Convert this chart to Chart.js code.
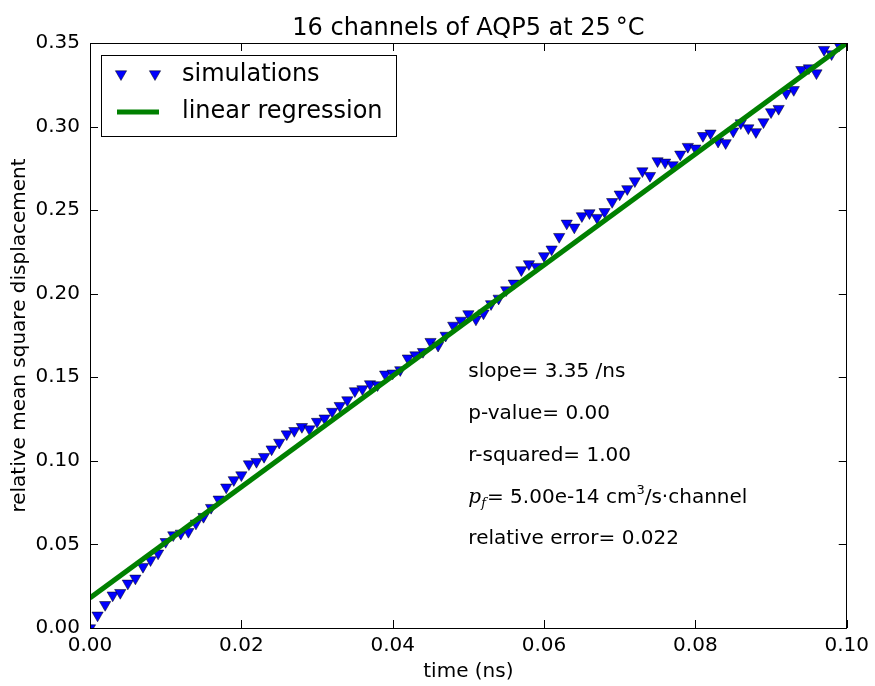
<!DOCTYPE html>
<html>
<head>
<meta charset="utf-8">
<script src="https://cdn.jsdelivr.net/npm/chart.js@4/dist/chart.umd.min.js"></script>
<style>
html,body{margin:0;padding:0;background:#fff;}
#wrap{width:875px;height:686px;position:relative;}
</style>
</head>
<body>
<div id="wrap"><canvas id="c" width="875" height="686"></canvas></div>
<script>
// ---- data ----
const times = [0.000,0.001,0.002,0.003,0.004,0.005,0.006,0.007,0.008,0.009,
  0.010,0.011,0.012,0.013,0.014,0.015,0.016,0.017,0.018,0.019,
  0.020,0.021,0.022,0.023,0.024,0.025,0.026,0.027,0.028,0.029,
  0.030,0.031,0.032,0.033,0.034,0.035,0.036,0.037,0.038,0.039,
  0.040,0.041,0.042,0.043,0.044,0.045,0.046,0.047,0.048,0.049,
  0.050,0.051,0.052,0.053,0.054,0.055,0.056,0.057,0.058,0.059,
  0.060,0.061,0.062,0.063,0.064,0.065,0.066,0.067,0.068,0.069,
  0.070,0.071,0.072,0.073,0.074,0.075,0.076,0.077,0.078,0.079,
  0.080,0.081,0.082,0.083,0.084,0.085,0.086,0.087,0.088,0.089,
  0.090,0.091,0.092,0.093,0.094,0.095,0.096,0.097,0.098,0.099];
const msd = [0.000,0.0076,0.0139,0.0196,0.0211,0.0267,0.0297,0.0367,0.0407,0.0447,
  0.0516,0.0556,0.0566,0.0576,0.0626,0.0666,0.0720,0.0770,0.0842,0.0886,
  0.0915,0.0981,0.0995,0.1025,0.1070,0.1110,0.1160,0.1180,0.1204,0.1190,
  0.1235,0.1255,0.1295,0.1330,0.1364,0.1418,0.1430,0.1460,0.1454,0.1518,
  0.1524,0.1544,0.1614,0.1633,0.1653,0.1713,0.1690,0.1750,0.1810,0.1840,
  0.1879,0.1847,0.1883,0.1939,0.1972,0.2022,0.2062,0.2142,0.2178,0.2162,
  0.2226,0.2266,0.2341,0.2421,0.2397,0.2465,0.2483,0.2455,0.2490,0.2550,
  0.2595,0.2627,0.2674,0.2734,0.2706,0.2794,0.2786,0.2770,0.2834,0.2880,
  0.2870,0.2945,0.2960,0.2911,0.2902,0.2972,0.3021,0.2991,0.2968,0.3027,
  0.3087,0.3107,0.3200,0.3220,0.3340,0.3350,0.3320,0.3460,0.3434,0.3487];
const fitX = [0.0, 0.1];
const fitY = [0.018, 0.350];
const xTicks = [0.00, 0.02, 0.04, 0.06, 0.08, 0.10];
const yTicks = [0.00, 0.05, 0.10, 0.15, 0.20, 0.25, 0.30, 0.35];
const seriesNames = ['simulations', 'linear regression'];
const titleText = '16 channels of AQP5 at 25\u2009\u00b0C';
const xLabel = 'time (ns)';
const yLabel = 'relative mean square displacement';
const statLabels = ['slope= 3.35 /ns', 'p-value= 0.00', 'r-squared= 1.00', 'PF', 'relative error= 0.022'];
const statY = [0.15, 0.125, 0.10, 0.075, 0.05];
const statX = 0.05;

const FONT = '"DejaVu Sans", sans-serif';

const decor = {
  id: 'decor',
  afterDatasetsDraw(chart) {
    const ctx = chart.ctx;
    const ca = chart.chartArea;
    const xs = chart.scales.x, ys = chart.scales.y;
    ctx.save();
    // frame
    ctx.strokeStyle = '#000';
    ctx.lineWidth = 1;
    ctx.strokeRect(Math.round(ca.left) + 0.5, Math.round(ca.top) + 0.5,
      Math.round(ca.right - ca.left) - 1, Math.round(ca.bottom - ca.top));
    // inward ticks
    ctx.beginPath();
    const tl = 8;
    xTicks.forEach(v => {
      const px = Math.round(xs.getPixelForValue(v)) + 0.5;
      ctx.moveTo(px, ca.bottom); ctx.lineTo(px, ca.bottom - tl);
      ctx.moveTo(px, ca.top); ctx.lineTo(px, ca.top + tl);
    });
    yTicks.forEach(v => {
      const py = Math.round(ys.getPixelForValue(v)) + 0.5;
      ctx.moveTo(ca.left, py); ctx.lineTo(ca.left + tl, py);
      ctx.moveTo(ca.right, py); ctx.lineTo(ca.right - tl, py);
    });
    ctx.stroke();

    // title
    ctx.fillStyle = '#000';
    ctx.font = '24px ' + FONT;
    ctx.textAlign = 'center';
    ctx.textBaseline = 'alphabetic';
    ctx.fillText(titleText, (ca.left + ca.right) / 2, 35);

    // stats annotations
    ctx.font = '20px ' + FONT;
    ctx.textAlign = 'left';
    statLabels.forEach((s, i) => {
      const px = xs.getPixelForValue(statX);
      const py = ys.getPixelForValue(statY[i]);
      if (s === 'PF') {
        let x = px;
        ctx.font = 'italic 20px "DejaVu Serif", serif';
        ctx.fillText('p', x, py); x += ctx.measureText('p').width;
        ctx.font = 'italic 13px "DejaVu Serif", serif';
        ctx.fillText('f', x, py + 4); x += ctx.measureText('f').width + 1;
        ctx.font = '20px ' + FONT;
        const a = '= 5.00e-14 cm';
        ctx.fillText(a, x, py); x += ctx.measureText(a).width;
        ctx.font = '13px ' + FONT;
        ctx.fillText('3', x, py - 9); x += ctx.measureText('3').width;
        ctx.font = '20px ' + FONT;
        ctx.fillText('/s\u00b7channel', x, py);
      } else {
        ctx.fillText(s, px, py);
      }
    });

    // legend box
    const lx = 101, ly = 55, lw = 295, lh = 81;
    ctx.fillStyle = '#fff';
    ctx.fillRect(lx, ly, lw, lh);
    ctx.strokeStyle = '#000';
    ctx.lineWidth = 1;
    ctx.strokeRect(lx + 0.5, ly + 0.5, lw, lh);
    // markers
    const tri = (cx, cy, r) => {
      ctx.beginPath();
      ctx.moveTo(cx - r * 0.866, cy - r * 0.5);
      ctx.lineTo(cx + r * 0.866, cy - r * 0.5);
      ctx.lineTo(cx, cy + r);
      ctx.closePath();
      ctx.fillStyle = '#0000ff';
      ctx.fill();
      ctx.strokeStyle = '#000';
      ctx.lineWidth = 0.5;
      ctx.stroke();
    };
    tri(121, 74, 6.5);
    tri(155, 74, 6.5);
    ctx.strokeStyle = '#008000';
    ctx.lineWidth = 5;
    ctx.beginPath();
    ctx.moveTo(117, 112); ctx.lineTo(159, 112);
    ctx.stroke();
    ctx.fillStyle = '#000';
    ctx.font = '24px ' + FONT;
    ctx.textBaseline = 'middle';
    ctx.fillText(seriesNames[0], 182, 75);
    ctx.fillText(seriesNames[1], 182, 112);
    ctx.restore();
  }
};

new Chart(document.getElementById('c'), {
  data: {
    datasets: [
      {
        type: 'line',
        label: seriesNames[1],
        data: fitX.map((x, i) => ({x: x, y: fitY[i]})),
        borderColor: '#008000',
        borderWidth: 5,
        pointRadius: 0,
        fill: false,
        order: 0
      },
      {
        type: 'scatter',
        label: seriesNames[0],
        data: times.map((t, i) => ({x: t, y: msd[i]})),
        pointStyle: 'triangle',
        rotation: 180,
        pointRadius: 6.5,
        backgroundColor: '#0000ff',
        borderColor: '#000',
        borderWidth: 0.5,
        order: 1
      }
    ]
  },
  options: {
    responsive: false,
    animation: false,
    events: [],
    layout: {padding: {top: 43, right: 28, left: 0, bottom: 0}},
    plugins: {legend: {display: false}, tooltip: {enabled: false}},
    scales: {
      x: {
        type: 'linear', min: 0, max: 0.1,
        afterBuildTicks: s => { s.ticks = xTicks.map(v => ({value: v})); },
        afterFit: s => { s.height = 58; },
        grid: {display: false, drawTicks: false},
        border: {display: false},
        ticks: {
          callback: v => Number(v).toFixed(2),
          font: {family: FONT, size: 20}, color: '#000', padding: 6, maxRotation: 0
        },
        title: {display: true, text: xLabel, font: {family: FONT, size: 20}, color: '#000', padding: {top: 0, bottom: 2}}
      },
      y: {
        type: 'linear', min: 0, max: 0.35,
        afterBuildTicks: s => { s.ticks = yTicks.map(v => ({value: v})); },
        afterFit: s => { s.width = 90; },
        grid: {display: false, drawTicks: false},
        border: {display: false},
        ticks: {
          callback: v => Number(v).toFixed(2),
          font: {family: FONT, size: 20}, color: '#000', padding: 10
        },
        title: {display: true, text: yLabel, font: {family: FONT, size: 20}, color: '#000', padding: {top: 8, bottom: 0}}
      }
    }
  },
  plugins: [decor]
});
</script>
</body>
</html>
